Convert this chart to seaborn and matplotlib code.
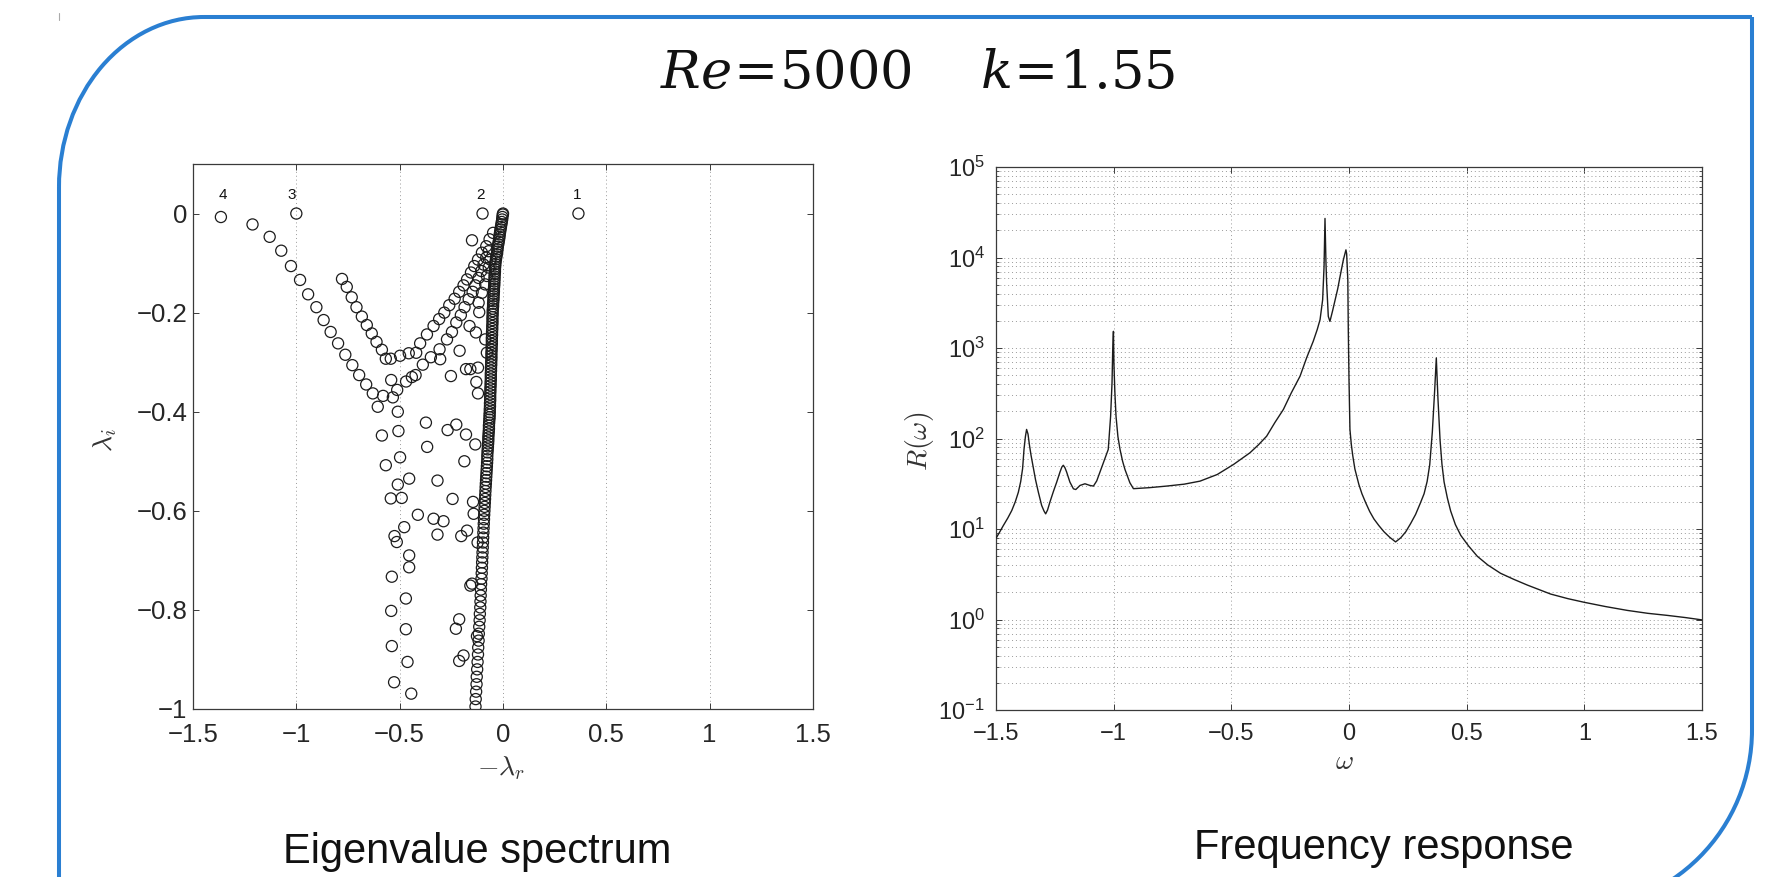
import numpy as np
import pandas as pd
import matplotlib
matplotlib.use("Agg")
import matplotlib.pyplot as plt
import seaborn as sns
from matplotlib import ticker
from matplotlib.patches import Arc
from matplotlib.lines import Line2D

# ---------------- data: eigenvalue spectrum ----------------
mode_x = [0.365, -0.099, -1.000, -1.365]
mode_y = [0.000, 0.000, 0.000, -0.007]
mode_labels = ["1", "2", "3", "4"]
label_x = [0.36, -0.11, -1.02, -1.355]
label_y = [0.038, 0.038, 0.038, 0.038]

branch4_x = [-1.212, -1.129, -1.073, -1.026, -0.982, -0.943, -0.903, -0.868, -0.834, -0.798,
             -0.763, -0.729, -0.696, -0.662, -0.630, -0.580, -0.533, -0.541, -0.512, -0.469,
             -0.441, -0.423, -0.388, -0.349, -0.307, -0.304, -0.271, -0.247, -0.226, -0.204,
             -0.186, -0.166, -0.147, -0.134, -0.118, -0.105, -0.094, -0.081, -0.069]
branch4_y = [-0.022, -0.047, -0.075, -0.106, -0.134, -0.163, -0.189, -0.215, -0.239, -0.262,
             -0.285, -0.306, -0.326, -0.345, -0.363, -0.368, -0.371, -0.336, -0.356, -0.339,
             -0.330, -0.326, -0.305, -0.290, -0.274, -0.294, -0.254, -0.239, -0.220, -0.205,
             -0.189, -0.173, -0.158, -0.145, -0.130, -0.116, -0.103, -0.089, -0.076]

branchV_x = [-0.779, -0.756, -0.732, -0.709, -0.683, -0.659, -0.635, -0.612, -0.586, -0.567,
             -0.543, -0.498, -0.456, -0.420, -0.401, -0.368, -0.336, -0.309, -0.284, -0.260,
             -0.234, -0.212, -0.191, -0.174, -0.155, -0.139, -0.121, -0.102, -0.081, -0.065,
             -0.048]
branchV_y = [-0.132, -0.148, -0.169, -0.189, -0.208, -0.225, -0.242, -0.259, -0.275, -0.293,
             -0.293, -0.287, -0.282, -0.281, -0.262, -0.244, -0.227, -0.213, -0.200, -0.185,
             -0.172, -0.158, -0.145, -0.133, -0.119, -0.106, -0.093, -0.079, -0.066, -0.052,
             -0.039]

scatter_x = [-0.150, -0.210, -0.179, -0.158, -0.121, -0.129, -0.121, -0.252, -0.162, -0.131,
             -0.115, -0.118, -0.102, -0.086, -0.078, -0.069, -0.061, -0.086, -0.078,
             -0.606, -0.509, -0.586, -0.506, -0.373, -0.268, -0.226, -0.179, -0.134, -0.367,
             -0.498, -0.567, -0.187, -0.454, -0.317, -0.509, -0.543, -0.490, -0.244, -0.145,
             -0.142, -0.412, -0.336, -0.288, -0.478, -0.525, -0.514, -0.317, -0.202, -0.174,
             -0.123, -0.454, -0.454, -0.538, -0.150, -0.158, -0.470, -0.541, -0.212, -0.228,
             -0.470, -0.126, -0.538, -0.191, -0.212, -0.462, -0.527, -0.444]
scatter_y = [-0.054, -0.277, -0.314, -0.314, -0.311, -0.340, -0.363, -0.328, -0.227, -0.240,
             -0.199, -0.180, -0.160, -0.143, -0.126, -0.109, -0.093, -0.254, -0.281,
             -0.390, -0.400, -0.448, -0.439, -0.422, -0.437, -0.426, -0.446, -0.466, -0.471,
             -0.492, -0.508, -0.500, -0.535, -0.539, -0.547, -0.575, -0.574, -0.576, -0.582,
             -0.606, -0.608, -0.616, -0.621, -0.633, -0.651, -0.663, -0.648, -0.651, -0.640,
             -0.664, -0.690, -0.714, -0.733, -0.747, -0.751, -0.777, -0.802, -0.819, -0.838,
             -0.839, -0.853, -0.873, -0.892, -0.903, -0.905, -0.946, -0.969]

dense_y = [-0.995, -0.980, -0.965, -0.950, -0.935, -0.920, -0.905, -0.890, -0.876, -0.862,
           -0.848, -0.834, -0.821, -0.808,
           -0.795, -0.783, -0.771, -0.759, -0.748, -0.737, -0.726, -0.715, -0.704, -0.694,
           -0.684, -0.674, -0.664, -0.654, -0.644, -0.635, -0.626, -0.617, -0.608,
           -0.600, -0.592, -0.584, -0.576, -0.568, -0.560, -0.552, -0.545, -0.538, -0.531,
           -0.524, -0.517, -0.510, -0.503, -0.496, -0.489, -0.482, -0.476, -0.470, -0.464,
           -0.458, -0.452, -0.446, -0.440, -0.434, -0.428, -0.422, -0.416, -0.411, -0.406,
           -0.401,
           -0.395, -0.389, -0.383, -0.377, -0.371, -0.365, -0.359, -0.353, -0.347, -0.341,
           -0.335, -0.329, -0.323, -0.317, -0.311, -0.305, -0.299, -0.293, -0.287, -0.281,
           -0.275, -0.269, -0.263, -0.257, -0.251, -0.245, -0.239, -0.233, -0.227, -0.221,
           -0.215, -0.209, -0.203,
           -0.197, -0.192, -0.187, -0.182, -0.177, -0.172, -0.167, -0.162, -0.157, -0.152,
           -0.147, -0.142, -0.137, -0.132, -0.127, -0.122, -0.117, -0.112, -0.107, -0.102,
           -0.097, -0.092, -0.087, -0.082, -0.077, -0.072, -0.067, -0.062, -0.057, -0.052,
           -0.047, -0.042, -0.037, -0.032, -0.027, -0.022, -0.017, -0.012, -0.007, -0.002,
           0.000]
dense_x = [-0.133, -0.132, -0.130, -0.128, -0.127, -0.125, -0.123, -0.121, -0.120, -0.118,
           -0.117, -0.115, -0.113, -0.112,
           -0.110, -0.109, -0.108, -0.107, -0.106, -0.104, -0.103, -0.102, -0.101, -0.100,
           -0.099, -0.098, -0.097, -0.096, -0.095, -0.094, -0.093, -0.092, -0.091,
           -0.090, -0.089, -0.088, -0.087, -0.086, -0.085, -0.084, -0.083, -0.082, -0.081,
           -0.080, -0.079, -0.078, -0.077, -0.076, -0.076, -0.075, -0.074, -0.073, -0.072,
           -0.071, -0.071, -0.070, -0.069, -0.068, -0.068, -0.067, -0.066, -0.065, -0.065,
           -0.064,
           -0.064, -0.063, -0.063, -0.062, -0.062, -0.062, -0.061, -0.061, -0.060, -0.060,
           -0.059, -0.059, -0.059, -0.058, -0.058, -0.057, -0.057, -0.056, -0.056, -0.056,
           -0.055, -0.055, -0.054, -0.054, -0.054, -0.053, -0.053, -0.052, -0.052, -0.051,
           -0.051, -0.051, -0.050,
           -0.050, -0.049, -0.048, -0.048, -0.047, -0.046, -0.046, -0.045, -0.044, -0.044,
           -0.043, -0.042, -0.042, -0.041, -0.041, -0.040, -0.039, -0.039, -0.038, -0.037,
           -0.036, -0.034, -0.032, -0.030, -0.028, -0.027, -0.025, -0.023, -0.021, -0.019,
           -0.017, -0.016, -0.014, -0.012, -0.010, -0.008, -0.006, -0.004, -0.003, -0.001,
           0.000]

# ---------------- data: frequency response ----------------
omega = [-1.500, -1.485, -1.469, -1.450, -1.433, -1.418, -1.405, -1.395, -1.387, -1.381,
         -1.375, -1.370, -1.364, -1.358, -1.351, -1.344, -1.332, -1.320, -1.306, -1.296,
         -1.289, -1.281, -1.271, -1.256, -1.242, -1.228, -1.220, -1.214, -1.207, -1.200,
         -1.186, -1.171, -1.161, -1.143, -1.122, -1.101, -1.086, -1.072, -1.058, -1.047,
         -1.037, -1.023, -1.013, -1.007, -1.004, -1.001, -0.999, -0.995, -0.990, -0.982,
         -0.973, -0.962, -0.952, -0.931, -0.916, -0.850, -0.775, -0.700, -0.633, -0.560,
         -0.491, -0.421, -0.385, -0.350, -0.315, -0.279, -0.245, -0.208, -0.180, -0.152,
         -0.135, -0.123, -0.112, -0.106, -0.102, -0.098, -0.095, -0.088, -0.081, -0.070,
         -0.059, -0.048, -0.038, -0.024, -0.013, -0.010, -0.005, -0.003, 0.000, 0.004,
         0.010, 0.016, 0.025, 0.033, 0.042, 0.055, 0.071, 0.088, 0.106, 0.127,
         0.149, 0.173, 0.198, 0.220, 0.241, 0.262, 0.283, 0.302, 0.319, 0.332,
         0.343, 0.354, 0.364, 0.371, 0.378, 0.387, 0.395, 0.404, 0.418, 0.432,
         0.452, 0.475, 0.508, 0.545, 0.590, 0.644, 0.700, 0.758, 0.810, 0.857,
         0.930, 0.999, 1.090, 1.183, 1.270, 1.353, 1.430, 1.500]
response = [7.9, 9.2, 10.9, 13.2, 16.0, 20.0, 25.5, 33.5, 46.5, 75.7,
            105, 126, 112, 85, 65, 52, 35, 25.5, 18.2, 15.8,
            14.7, 16.2, 19.8, 26.0, 33, 42.7, 48.5, 50.6, 47.5, 42.7,
            33, 27.8, 27.3, 30.3, 31.6, 30.3, 29.8, 34.0, 42.7, 51.0,
            60, 75.7, 176, 411, 960, 1528, 684, 330, 176, 105,
            75.7, 56, 45.5, 32.4, 27.9, 28.6, 29.8, 31.3, 33.8, 40,
            51.6, 69.5, 85, 106, 150, 209, 320, 488, 780, 1186,
            1600, 2056, 3412, 7960, 27000, 9000, 5212, 2234, 1968, 2560,
            3412, 4500, 6166, 9419, 12150, 11000, 5623, 1585, 447, 126,
            85, 64.6, 46, 38, 31, 24.5, 19.5, 15.6, 12.9, 10.9,
            9.3, 8.1, 7.2, 8.0, 9.3, 11.5, 14.5, 19.0, 24.5, 33.5,
            51.3, 117, 339, 776, 275, 95.5, 52, 33.1, 22, 15.8,
            11.2, 8.5, 6.5, 5.0, 4.0, 3.24, 2.78, 2.40, 2.13, 1.91,
            1.70, 1.55, 1.39, 1.26, 1.17, 1.11, 1.05, 0.99]

x_ticks = [-1.5, -1, -0.5, 0, 0.5, 1, 1.5]
x_ticklabels = ["\u22121.5", "\u22121", "\u22120.5", "0", "0.5", "1", "1.5"]
left_yticks = [-1, -0.8, -0.6, -0.4, -0.2, 0]
left_yticklabels = ["\u22121", "\u22120.8", "\u22120.6", "\u22120.4", "\u22120.2", "0"]

title_text = r"$Re\!=\!5000\quad\ k\!=\!1.55$"
left_caption = "Eigenvalue spectrum"
right_caption = "Frequency response"

# ---------------- styling ----------------
sns.set_style("ticks")
plt.rcParams["font.family"] = ["Liberation Sans", "DejaVu Sans"]
plt.rcParams["mathtext.fontset"] = "cm"

W, H = 1789, 877
fig = plt.figure(figsize=(W / 100, H / 100), dpi=100)
fig.patch.set_facecolor("white")

ax1 = fig.add_axes([193 / W, 1 - 709 / H, 620 / W, 545 / H])
ax2 = fig.add_axes([996 / W, 1 - 710 / H, 706 / W, 543 / H])

grid_kw = dict(color="#9a9a9a", linestyle=(0, (1, 3)), linewidth=0.7)
spine_col = "#3a3a3a"

# ---- left: eigenvalue spectrum ----
eig = pd.DataFrame({
    "x": mode_x + branch4_x + branchV_x + scatter_x + dense_x,
    "y": mode_y + branch4_y + branchV_y + scatter_y + dense_y,
})
sns.scatterplot(data=eig, x="x", y="y", ax=ax1, marker="o", s=64,
                facecolors="none", edgecolor="#1c1c1c", linewidth=0.9, zorder=3)
for lx, ly, lt in zip(label_x, label_y, mode_labels):
    ax1.text(lx, ly, lt, ha="center", va="center", fontsize=11, color="#111")

ax1.set_xlim(-1.5, 1.5)
ax1.set_ylim(-1, 0.1)
ax1.set_xticks(x_ticks)
ax1.set_xticklabels(x_ticklabels)
ax1.set_yticks(left_yticks)
ax1.set_yticklabels(left_yticklabels)
ax1.xaxis.grid(True, **grid_kw)
ax1.yaxis.grid(False)
ax1.tick_params(direction="in", top=True, right=True, length=4.5, width=0.7,
                labelsize=18.5, color=spine_col)
ax1.tick_params(axis="x", pad=10)
ax1.tick_params(axis="y", pad=4)
ax1.set_xlabel(r"$-\lambda_r$", fontsize=20, color="#333")
ax1.set_ylabel(r"$\lambda_i$", fontsize=20, color="#333")
ax1.xaxis.set_label_coords(0.497, -0.108)
ax1.yaxis.set_label_coords(-0.142, 0.494)
ax1.xaxis.label.set_va("center")
ax1.yaxis.label.set_va("center")

# ---- right: frequency response ----
fr = pd.DataFrame({"omega": omega, "R": response})
sns.lineplot(data=fr, x="omega", y="R", ax=ax2, color="#1c1c1c", linewidth=1.0,
             estimator=None, sort=False, zorder=3)
ax2.set_yscale("log")
ax2.set_xlim(-1.5, 1.5)
ax2.set_ylim(1e-1, 1e5)
ax2.set_xticks(x_ticks)
ax2.set_xticklabels(x_ticklabels)
ax2.yaxis.set_major_locator(ticker.LogLocator(base=10, numticks=10))
ax2.yaxis.set_minor_locator(ticker.LogLocator(base=10, subs=np.arange(2, 10), numticks=20))
ax2.yaxis.set_minor_formatter(ticker.NullFormatter())
ax2.xaxis.grid(True, which="major", **grid_kw)
ax2.yaxis.grid(True, which="major", **grid_kw)
ax2.yaxis.grid(True, which="minor", **grid_kw)
ax2.tick_params(direction="in", top=True, right=True, length=4.5, width=0.7,
                labelsize=17, color=spine_col)
ax2.tick_params(which="minor", direction="in", left=True, right=True, length=2.5,
                width=0.6, color=spine_col)
ax2.tick_params(axis="x", pad=9)
ax2.tick_params(axis="y", pad=8)
ax2.set_xlabel(r"$\omega$", fontsize=20, color="#333")
ax2.set_ylabel(r"$R(\omega)$", fontsize=20, color="#333")
ax2.xaxis.set_label_coords(0.494, -0.095)
ax2.yaxis.set_label_coords(-0.108, 0.495)
ax2.xaxis.label.set_va("center")
ax2.yaxis.label.set_va("center")

for ax in (ax1, ax2):
    ax.set_facecolor("white")
    for sp in ax.spines.values():
        sp.set_visible(True)
        sp.set_color(spine_col)
        sp.set_linewidth(0.9)

# ---------------- texts ----------------
fig.text(918 / W, 1 - 88 / H, title_text, ha="center", va="baseline",
         fontsize=38, math_fontfamily="dejavuserif", color="#111")
fig.text(477 / W, 1 - 863 / H, left_caption, ha="center", va="baseline",
         fontsize=30, color="#111")
fig.text(1384 / W, 1 - 859 / H, right_caption, ha="center", va="baseline",
         fontsize=30, color="#111")

# ---------------- blue frame ----------------
blue = "#2A7FD2"
tr = fig.dpi_scale_trans
flw = 2.9
def pt(x, y):
    return x / 100, (H - y) / 100

for (x0, y0), (x1, y1) in [((204, 17), (1752, 17)), ((1752, 17), (1752, 730)),
                           ((59, 187), (59, 900))]:
    a, b = pt(x0, y0)
    c, d = pt(x1, y1)
    fig.add_artist(Line2D([a, c], [b, d], transform=tr, color=blue, lw=flw,
                          solid_capstyle="butt"))
cx, cy = pt(204, 187)
fig.add_artist(Arc((cx, cy), 2 * 1.45, 2 * 1.70, theta1=90, theta2=180,
                   transform=tr, color=blue, lw=flw))
cx, cy = pt(1572, 730)
fig.add_artist(Arc((cx, cy), 3.6, 3.6, theta1=270, theta2=360,
                   transform=tr, color=blue, lw=flw))
a, b = pt(59, 13)
c, d = pt(59, 20)
fig.add_artist(Line2D([a, c], [b, d], transform=tr, color="#aaaaaa", lw=0.8))

fig.savefig("out.png", dpi=100, facecolor="white")
